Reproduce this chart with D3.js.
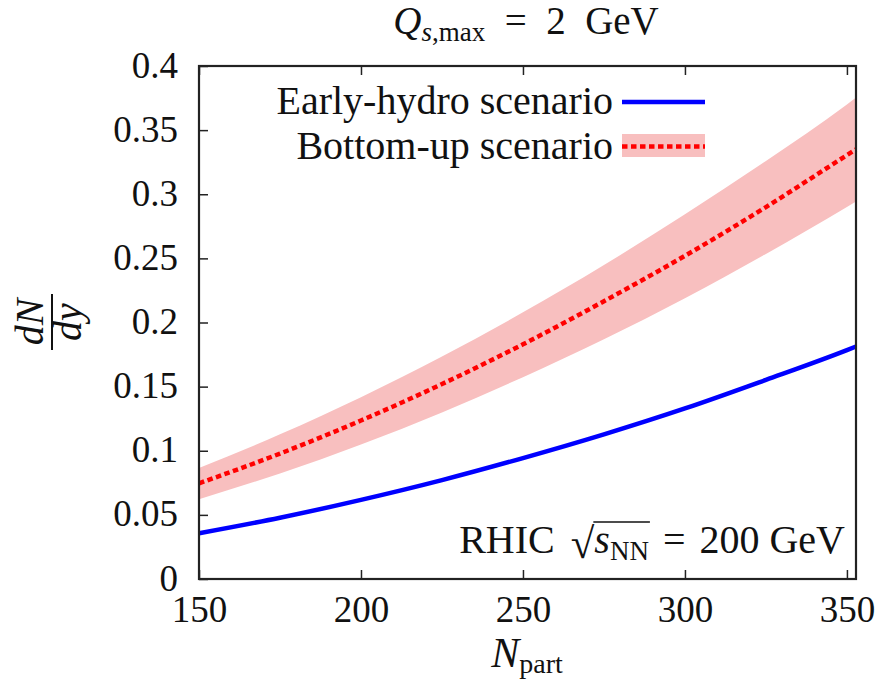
<!DOCTYPE html>
<html><head><meta charset="utf-8">
<script src="https://cdn.jsdelivr.net/npm/d3@7"></script>
<style>body{margin:0;background:#fff}svg{display:block}</style>
</head><body>
<svg id="c" width="887" height="680"></svg>
<script>
const npart = [150, 175, 200, 225, 250, 275, 300, 325, 350, 352.8];
const earlyHydro = [0.0357, 0.0478, 0.0617, 0.0771, 0.0943, 0.1128, 0.133, 0.1553, 0.1785, 0.1813];
const bottomUp   = [0.0746, 0.0978, 0.1236, 0.152, 0.183, 0.2166, 0.252, 0.290, 0.3305, 0.335];
const bottomUpLo = [0.0622, 0.0823, 0.1049, 0.1299, 0.1574, 0.187, 0.219, 0.2535, 0.290, 0.2943];
const bottomUpHi = [0.0865, 0.1128, 0.1418, 0.1735, 0.2079, 0.2448, 0.2844, 0.326, 0.370, 0.3754];
const xTicks = [150, 200, 250, 300, 350];
const yTicks = [0, 0.05, 0.1, 0.15, 0.2, 0.25, 0.3, 0.35, 0.4];
const yTickLabels = ["0", "0.05", "0.1", "0.15", "0.2", "0.25", "0.3", "0.35", "0.4"];
const legendLabels = ["Early-hydro scenario", "Bottom-up scenario"];

const svg = d3.select("#c");
const L = 199, R = 856, T = 66, B = 579;
const x = d3.scaleLinear().domain([150, 352.8]).range([L, R]);
const y = d3.scaleLinear().domain([0, 0.4]).range([B, T]);
const FONT = "'Liberation Serif', 'DejaVu Serif', serif";

const data = npart.map((n, i) => ({n, e: earlyHydro[i], b: bottomUp[i], lo: bottomUpLo[i], hi: bottomUpHi[i]}));

const g = svg.append("g");
g.append("path").datum(data)
  .attr("d", d3.area().x(d => x(d.n)).y0(d => y(d.lo)).y1(d => y(d.hi)).curve(d3.curveMonotoneX))
  .attr("fill", "#f8bfbf");
g.append("path").datum(data)
  .attr("d", d3.line().x(d => x(d.n)).y(d => y(d.e)).curve(d3.curveMonotoneX))
  .attr("fill", "none").attr("stroke", "#0000ff").attr("stroke-width", 4.5);
g.append("path").datum(data)
  .attr("d", d3.line().x(d => x(d.n)).y(d => y(d.b)).curve(d3.curveMonotoneX))
  .attr("fill", "none").attr("stroke", "#ff0000").attr("stroke-width", 4.5)
  .attr("stroke-dasharray", "5.5,3.5");

// axes
function styleAxis(sel) {
  sel.select(".domain").remove();
  sel.selectAll(".tick line").attr("stroke", "#222").attr("stroke-width", 1.5);
  sel.selectAll(".tick text").attr("font-family", FONT).attr("font-size", 37).attr("fill", "#111");
}
svg.append("g").attr("transform", `translate(0,${B})`)
  .call(d3.axisBottom(x).tickValues(xTicks).tickSizeInner(-9).tickSizeOuter(0).tickPadding(17).tickFormat(d3.format("d")))
  .call(styleAxis);
svg.append("g").attr("transform", `translate(0,${T})`)
  .call(d3.axisTop(x).tickValues(xTicks).tickSizeInner(-9).tickSizeOuter(0).tickFormat(""))
  .call(styleAxis);
svg.append("g").attr("transform", `translate(${L},0)`)
  .call(d3.axisLeft(y).tickValues(yTicks).tickSizeInner(-9).tickSizeOuter(0).tickPadding(21)
    .tickFormat((d, i) => yTickLabels[i]))
  .call(styleAxis)
  .selectAll(".tick text").attr("dy", "0.3em");
// frame
svg.append("rect").attr("x", L).attr("y", T).attr("width", R - L).attr("height", B - T)
  .attr("fill", "none").attr("stroke", "#222").attr("stroke-width", 2.2);

// legend
const lg = svg.append("g");
lg.append("text").attr("x", 613).attr("y", 114).attr("text-anchor", "end")
  .attr("font-family", FONT).attr("font-size", 40).attr("fill", "#111").text(legendLabels[0]);
lg.append("text").attr("x", 613).attr("y", 159).attr("text-anchor", "end")
  .attr("font-family", FONT).attr("font-size", 40).attr("fill", "#111").text(legendLabels[1]);
lg.append("line").attr("x1", 622).attr("x2", 705).attr("y1", 102).attr("y2", 102)
  .attr("stroke", "#0000ff").attr("stroke-width", 4.5);
lg.append("rect").attr("x", 622).attr("y", 134).attr("width", 83).attr("height", 23).attr("fill", "#f8bfbf");
lg.append("line").attr("x1", 622).attr("x2", 705).attr("y1", 146.5).attr("y2", 146.5)
  .attr("stroke", "#ff0000").attr("stroke-width", 4.5).attr("stroke-dasharray", "5.5,3.5");

// title
const title = svg.append("text").attr("x", 526).attr("y", 34).attr("text-anchor", "middle")
  .attr("font-family", FONT).attr("font-size", 39).attr("fill", "#111");
title.append("tspan").attr("font-style", "italic").text("Q");
title.append("tspan").attr("font-size", 27).attr("dy", 7).attr("font-style", "italic").text("s");
title.append("tspan").attr("font-size", 27).text(",max");
title.append("tspan").attr("dy", -7).attr("xml:space", "preserve").text("\u2002=\u20022\u2002GeV");

// x label
const xl = svg.append("text").attr("x", 527).attr("y", 667).attr("text-anchor", "middle")
  .attr("font-family", FONT).attr("font-size", 42).attr("fill", "#111");
xl.append("tspan").attr("font-style", "italic").text("N");
xl.append("tspan").attr("font-size", 28).attr("dy", 6).text("part");

// y label: fraction dN/dy rotated
const yl = svg.append("g").attr("transform", "translate(52,322) rotate(-90)");
yl.append("text").attr("x", 0).attr("y", -9).attr("text-anchor", "middle")
  .attr("font-family", FONT).attr("font-style", "italic").attr("font-size", 40).attr("fill", "#111").text("dN");
yl.append("text").attr("x", 0).attr("y", 29).attr("text-anchor", "middle")
  .attr("font-family", FONT).attr("font-style", "italic").attr("font-size", 40).attr("fill", "#111").text("dy");
yl.append("line").attr("x1", -28).attr("x2", 28).attr("y1", 0).attr("y2", 0).attr("stroke", "#111").attr("stroke-width", 2);

// RHIC annotation, laid out right to left
const ann = svg.append("g").attr("font-family", FONT).attr("fill", "#111");
const baseY = 553;
let cx = 845;
function piece(txt, size, italic, dy) {
  const t = ann.append("text").attr("y", baseY + (dy || 0)).attr("font-size", size)
    .attr("font-style", italic ? "italic" : "normal").attr("text-anchor", "end").attr("x", cx).text(txt);
  const w = t.node().getComputedTextLength();
  cx -= w;
  return {t, w, right: cx + w, left: cx};
}
piece("200 GeV", 40, false);
cx -= 14;
piece("=", 40, false);
cx -= 14;
const nn = piece("NN", 27, false, 7);
const s = piece("s", 40, true);
ann.append("line").attr("x1", s.left - 1).attr("x2", nn.right + 1).attr("y1", baseY - 31).attr("y2", baseY - 31)
  .attr("stroke", "#111").attr("stroke-width", 1.6);
piece("\u221A", 43, false, 5);
cx -= 16;
piece("RHIC", 40, false);
</script>
</body></html>
